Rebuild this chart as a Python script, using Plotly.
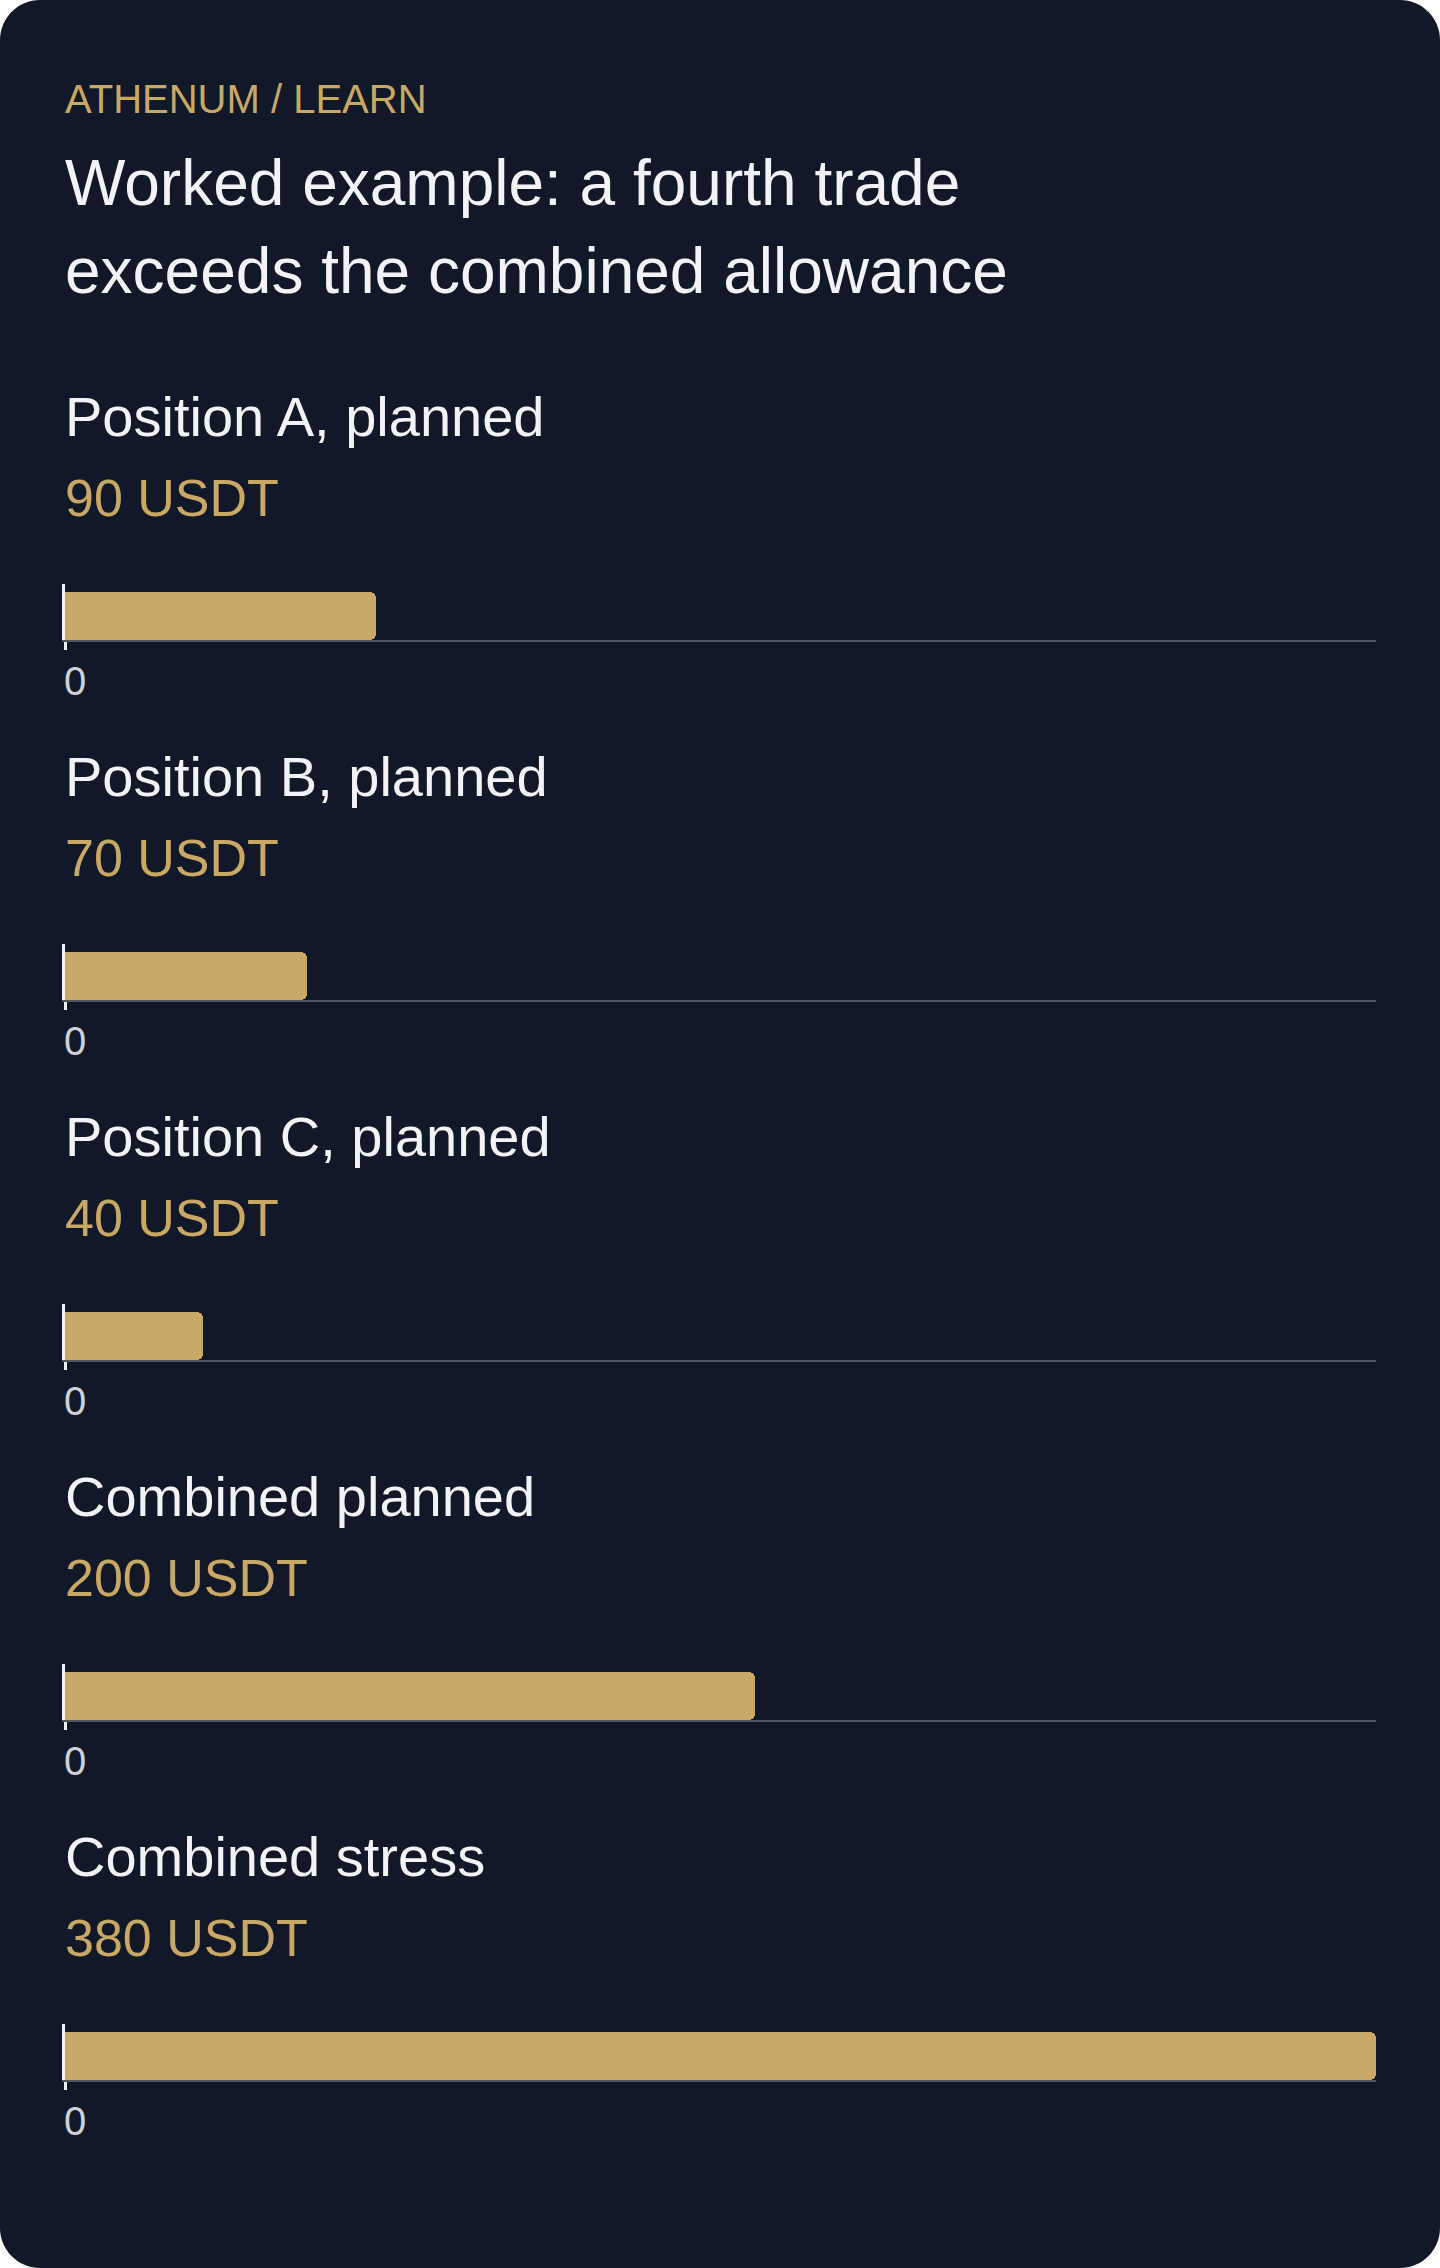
import plotly.graph_objects as go

# Chart content
eyebrow = "ATHENUM / LEARN"
title_lines = ["Worked example: a fourth trade", "exceeds the combined allowance"]
labels = ["Position A, planned", "Position B, planned", "Position C, planned",
          "Combined planned", "Combined stress"]
values = [90, 70, 40, 200, 380]
unit = "USDT"
x_max = 380

W, H = 1440, 2268
BG = "#111827"
GOLD = "#c9a866"
WHITE = "#f1f3f6"
FONT = "Liberation Sans, Arial, sans-serif"
STEP = 360  # vertical distance between sections, px


def py(px):
    """Convert a pixel offset from the top into a paper y fraction."""
    return 1 - px / H


fig = go.Figure()

# Rounded card behind everything
rx, ry = 40 / W, 40 / H
k = 0.45
card = (f"M {rx},0 L {1-rx},0 C {1-rx*k},0 1,{ry*k} 1,{ry} "
        f"L 1,{1-ry} C 1,{1-ry*k} {1-rx*k},1 {1-rx},1 "
        f"L {rx},1 C {rx*k},1 0,{1-ry*k} 0,{1-ry} "
        f"L 0,{ry} C 0,{ry*k} {rx*k},0 {rx},0 Z")
fig.add_shape(type="path", path=card, xref="paper", yref="paper",
              fillcolor=BG, line_width=0, layer="below")

annotations = []


def add_text(text, top_px, size, color):
    annotations.append(dict(
        text=text, x=64 / W, y=py(top_px), xref="paper", yref="paper",
        xanchor="left", yanchor="top", showarrow=False, align="left",
        borderpad=0, font=dict(family=FONT, size=size, color=color)))


add_text(eyebrow, 76, 40, GOLD)
add_text(title_lines[0], 146, 64, WHITE)
add_text(title_lines[1], 234, 64, WHITE)

for i, (label, val) in enumerate(zip(labels, values)):
    n = i + 1
    off = STEP * i
    add_text(label, 384 + off, 56, WHITE)
    add_text(f"{val} {unit}", 468 + off, 52, GOLD)

    fig.add_trace(go.Bar(
        x=[val], y=[0], orientation="h", width=1,
        marker=dict(color=GOLD, line_width=0, cornerradius=6),
        xaxis=f"x{n}", yaxis=f"y{n}", hoverinfo="skip"))

    fig.update_layout({
        f"xaxis{n}": dict(
            domain=[65 / W, 1376 / W], range=[0, x_max], anchor=f"y{n}",
            showgrid=False, zeroline=False, showline=True,
            linecolor="#4b5563", linewidth=2,
            ticks="outside", ticklen=8, tickwidth=3, tickcolor=WHITE,
            tickvals=[0], ticktext=["0"], ticklabelstandoff=-3,
            ticklabelshift=10,
            tickfont=dict(family=FONT, size=40, color="#cdd2da"),
            fixedrange=True),
        f"yaxis{n}": dict(
            domain=[py(640 + off), py(584 + off)], range=[-0.5, 0.6667],
            anchor=f"x{n}", showgrid=False, zeroline=False,
            showline=True, linecolor=WHITE, linewidth=3,
            showticklabels=False, ticks="", fixedrange=True),
    })

fig.update_layout(
    width=W, height=H,
    margin=dict(l=0, r=0, t=0, b=0),
    paper_bgcolor="white", plot_bgcolor="rgba(0,0,0,0)",
    showlegend=False, annotations=annotations,
    bargap=0,
)

# drop the browser's default page margin so the card fills the window
fig.write_html("out.html", config={"displayModeBar": False},
               post_script="document.body.style.margin='0';")
